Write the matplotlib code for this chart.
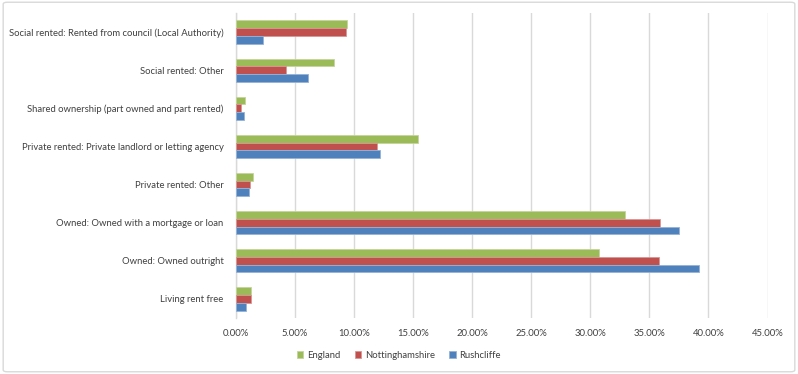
import matplotlib
matplotlib.use("Agg")
import matplotlib.pyplot as plt
import numpy as np
from matplotlib.patches import FancyBboxPatch
from matplotlib.ticker import PercentFormatter

# tenure categories, listed top to bottom as in the chart
categories = [
    "Social rented: Rented from council (Local Authority)",
    "Social rented: Other",
    "Shared ownership (part owned and part rented)",
    "Private rented: Private landlord or letting agency",
    "Private rented: Other",
    "Owned: Owned with a mortgage or loan",
    "Owned: Owned outright",
    "Living rent free",
]

# percentages
england = [9.4, 8.3, 0.8, 15.4, 1.4, 32.9, 30.7, 1.3]
nottinghamshire = [9.3, 4.2, 0.4, 11.9, 1.2, 35.9, 35.8, 1.3]
rushcliffe = [2.3, 6.1, 0.7, 12.2, 1.1, 37.5, 39.2, 0.85]

series_names = ["England", "Nottinghamshire", "Rushcliffe"]
colors = ["#9BBB59", "#C0504D", "#4F81BD"]
edges = ["#C3D69B", "#D99694", "#95B3D7"]

plt.rcParams["font.family"] = ["Lato", "DejaVu Sans"]

fig = plt.figure(figsize=(7.98, 3.74), dpi=100)
ax = fig.add_axes([236 / 798, 1 - 318 / 374, (767.5 - 236) / 798, (318 - 13) / 374])

n = len(categories)
y = np.arange(n)[::-1].astype(float)
h = 0.204

for k, (vals, name) in enumerate(zip([england, nottinghamshire, rushcliffe], series_names)):
    offset = (1 - k) * h
    ax.barh(y + offset, vals, height=h, color=colors[k], edgecolor=edges[k],
            linewidth=0.6, label=name, zorder=3)

ax.set_xlim(0, 45)
ax.set_ylim(-0.5, n - 0.5)
ax.set_xticks(np.arange(0, 46, 5))
ax.xaxis.set_major_formatter(PercentFormatter(decimals=2))
ax.set_yticks(y)
ax.set_yticklabels(categories)
ax.tick_params(axis="both", length=0, labelsize=6.8, colors="#404040")
ax.tick_params(axis="y", pad=9)
ax.tick_params(axis="x", pad=8)
ax.grid(axis="x", color="#D9D9D9", linewidth=1, zorder=0)
for side in ["top", "right", "bottom"]:
    ax.spines[side].set_visible(False)
ax.spines["left"].set_color("#D9D9D9")
ax.spines["left"].set_linewidth(1)

leg = fig.legend(loc="center", bbox_to_anchor=(0.5, 1 - 355 / 374), ncol=3, frameon=False,
                 fontsize=6.8, handlelength=0.7, handleheight=0.7, handletextpad=0.4,
                 columnspacing=1.5)
for t in leg.get_texts():
    t.set_color("#404040")

border = FancyBboxPatch((0.004, 0.006), 0.992, 0.988, boxstyle="round,pad=0,rounding_size=0.005",
                        transform=fig.transFigure, facecolor="none", edgecolor="#D9D9D9",
                        linewidth=1)
fig.patches.append(border)

fig.savefig("out.png", dpi=100)
